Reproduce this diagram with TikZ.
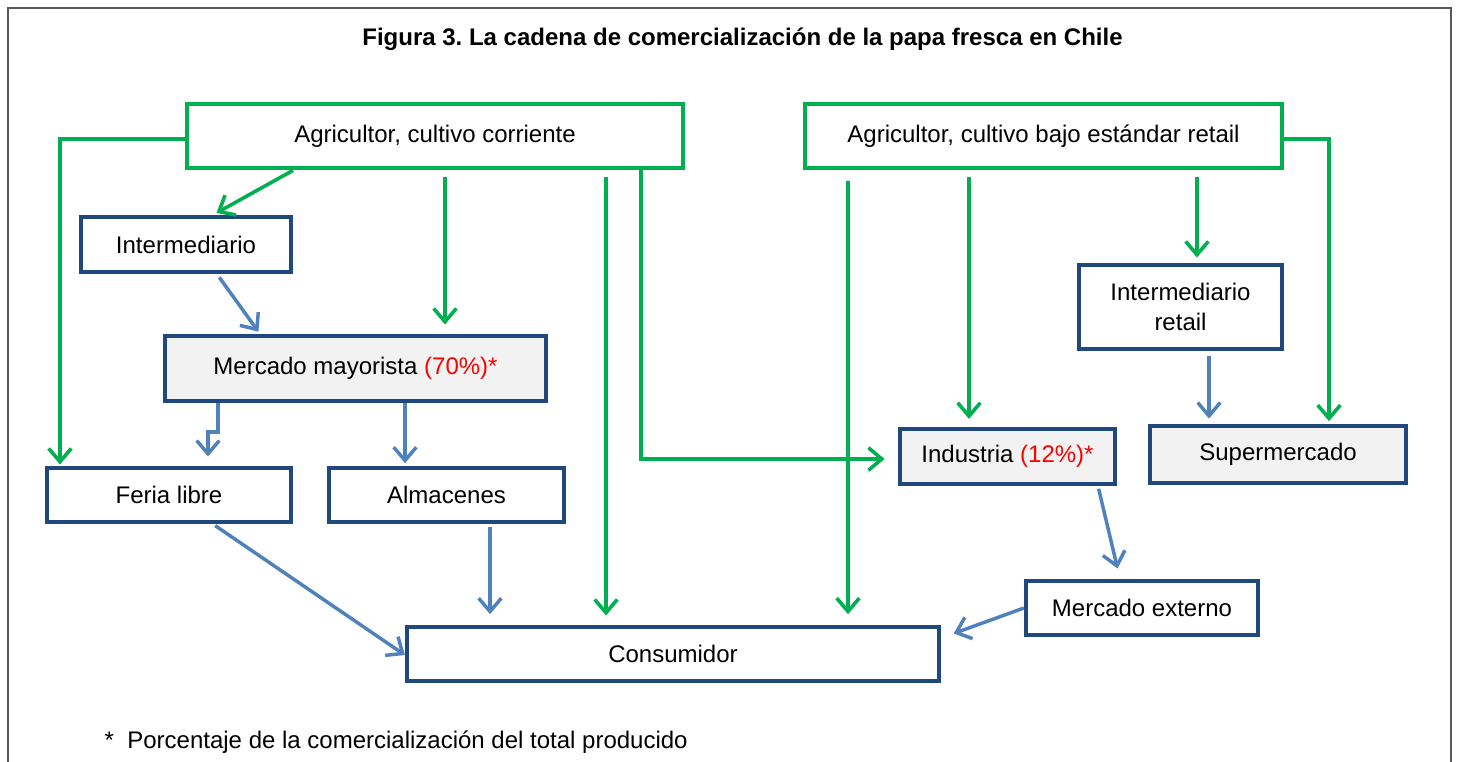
\documentclass[tikz,border=0pt]{standalone}
\usepackage{fontspec}
\setmainfont{Liberation Sans}
\usetikzlibrary{arrows.meta}
\definecolor{gr}{HTML}{00B050}
\definecolor{bl}{HTML}{4F81BD}
\definecolor{bx}{HTML}{1F497D}
\definecolor{gf}{HTML}{F2F2F2}
\definecolor{rd}{HTML}{FF0000}
\definecolor{fr}{HTML}{595959}
\frenchspacing
\begin{document}
\begin{tikzpicture}[x=0.75pt,y=-0.75pt,
  txt/.style={font=\fontsize{18}{23}\selectfont},
  gbox/.style={draw=gr,line width=3.6pt,fill=white,txt,inner sep=0pt,align=center},
  bbox/.style={draw=bx,line width=3.2pt,fill=white,txt,inner sep=0pt,align=center},
  fbox/.style={bbox,fill=gf},
  garrow/.style={draw=gr,line width=2.7pt,-{Straight Barb[length=10pt,width=17pt]}},
  barrow/.style={draw=bl,line width=2.6pt,-{Straight Barb[length=10pt,width=17pt]}}]
\useasboundingbox (0,0) rectangle (1460,761);
\draw[fr,line width=1.6pt] (8,770) -- (8,8) -- (1451,8) -- (1451,770);
\node[font=\bfseries\fontsize{18}{22}\selectfont] (title) at (742.5,39) {Figura 3. La cadena de comercialización de la papa fresca en Chile};
% nodes
\node[gbox,minimum width=372pt,minimum height=48pt] (A1) at (435,136) {Agricultor, cultivo corriente};
\node[gbox,minimum width=357.75pt,minimum height=48pt] (A2) at (1043.5,136) {Agricultor, cultivo bajo estándar retail};
\node[bbox,minimum width=157.5pt,minimum height=41.25pt] (IM) at (186,244.5) {Intermediario};
\node[fbox,minimum width=285.75pt,minimum height=48.75pt] (MM) at (355.5,368.5) {Mercado mayorista \textcolor{rd}{(70\%)*}};
\node[bbox,minimum width=183pt,minimum height=40.5pt] (FL) at (169,495) {Feria libre};
\node[bbox,minimum width=176.25pt,minimum height=40.5pt] (AL) at (446.5,495) {Almacenes};
\node[fbox,minimum width=161.25pt,minimum height=41.25pt] (IN) at (1007.5,456.5) {Industria \textcolor{rd}{(12\%)*}};
\node[bbox,minimum width=152.25pt,minimum height=63pt] (IR) at (1180.5,307) {Intermediario\\retail};
\node[fbox,minimum width=192pt,minimum height=42.75pt] (SM) at (1278,454.5) {Supermercado};
\node[bbox,minimum width=174pt,minimum height=40.5pt] (ME) at (1142,608) {Mercado externo};
\node[bbox,minimum width=399pt,minimum height=40.5pt] (CO) at (673,654) {Consumidor};
\node[txt,anchor=west] (nota) at (100,742) {*\ \ Porcentaje de la comercialización del total producido};
% green connectors
\draw[garrow,shorten >=1pt] (A1.west |- 0,139) -| (FL.north -| 60,0);
\draw[garrow,shorten >=3pt] (A1.south -| 293,0) -- (IM.north -| 213,0);
\draw[garrow,shorten <=5pt,shorten >=7pt] (A1.south -| 445,0) -- (MM.north -| 445,0);
\draw[garrow,shorten <=5pt,shorten >=7pt] (A1.south -| 606,0) -- (CO.north -| 606,0);
\draw[garrow] (A1.south -| 641,0) |- ([xshift=-10pt]IN.west |- 0,459);
\draw[garrow,shorten <=8pt,shorten >=8pt] (A2.south -| 848,0) -- (CO.north -| 848,0);
\draw[garrow,shorten <=5pt,shorten >=6pt] (A2.south -| 969,0) -- (IN.north -| 969,0);
\draw[garrow,shorten <=5pt,shorten >=4pt] (A2.south -| 1197,0) -- (IR.north -| 1197,0);
\draw[garrow,shorten >=2pt] (A2.east |- 0,139) -| (SM.north -| 1329,0);
% blue connectors
\draw[barrow,shorten <=3pt,shorten >=2pt] (IM.south -| 217,0) -- (MM.north -| 260,0);
\draw[barrow,shorten >=7pt] (MM.south -| 218,0) -- (218,432) -- (208,432) -- (FL.north -| 208,0);
\draw[barrow,shorten >=2pt] (MM.south -| 405,0) -- (AL.north -| 405,0);
\draw[barrow,shorten <=2pt] (FL.south -| 213,0) -- (CO.west |- 0,655);
\draw[barrow,shorten <=2pt,shorten >=8pt] (AL.south -| 490,0) -- (CO.north -| 490,0);
\draw[barrow,shorten <=2pt,shorten >=8pt] (IN.south -| 1098,0) -- (ME.north -| 1120,0);
\draw[barrow,shorten <=4pt,shorten >=4pt] (IR.south -| 1209,0) -- (SM.north -| 1209,0);
\draw[barrow,shorten >=10pt] (ME.west) -- (CO.east |- 0,638);
\end{tikzpicture}
\end{document}
